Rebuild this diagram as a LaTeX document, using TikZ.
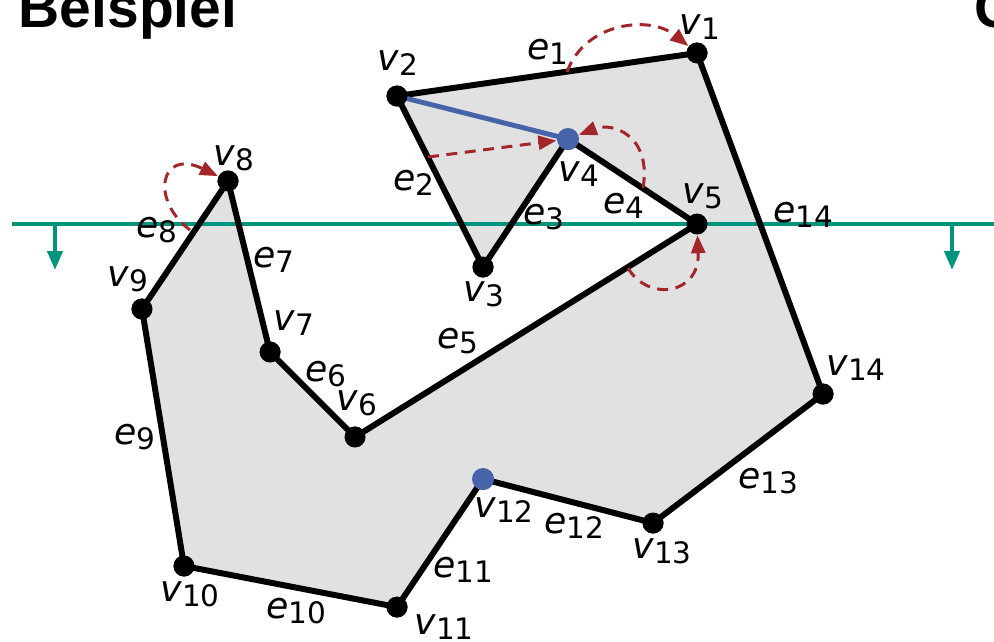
\documentclass[tikz,border=0pt]{standalone}
\usepackage{fontspec}
\setmainfont{DejaVu Sans}
\newfontfamily\headfont{Liberation Sans}
\usetikzlibrary{arrows.meta, positioning}
\definecolor{polyfill}{HTML}{E1E1E1}
\definecolor{sweepteal}{HTML}{00937E}
\definecolor{hitblue}{HTML}{4564AA}
\definecolor{ptrred}{HTML}{A3262A}
\newcommand{\idx}[2]{\textit{#1}\raisebox{-1.4pt}{\fontsize{8.4}{9}\selectfont #2}}
\tikzset{
    vtx/.style={circle, fill=black, inner sep=0pt, minimum size=0.21cm},
    hit vtx/.style={vtx, fill=hitblue, minimum size=0.22cm},
    lbl/.style={font=\fontsize{10.3}{12}\selectfont, inner sep=0pt},
    poly edge/.style={line width=1.7pt, line join=round},
    hit edge/.style={hitblue, line width=1.4pt},
    sweep line/.style={sweepteal, line width=1.4pt},
    sweep arrow/.style={sweepteal, line width=1.2pt,
        -{Triangle[length=0.19cm, width=0.15cm]}},
    ptr arrow/.style={ptrred, line width=0.85pt, dash pattern=on 0.11cm off 0.075cm,
        -{Triangle[length=0.18cm, width=0.14cm]}},
    head/.style={font=\headfont\fontsize{16.2}{18}\selectfont\bfseries, inner sep=0pt},
}
\begin{document}
\begin{tikzpicture}[x=0.01cm, y=-0.01cm]
  \useasboundingbox (0,0) rectangle (994,641);
  % title
  \node[head, anchor=base west] (title) at (18,27) {Beispiel};
  \node[head, anchor=base west] (next) at (974,27) {G};
  % vertices
  \node[vtx] (v1) at (697,53) {};
  \node[vtx] (v2) at (397,96) {};
  \node[vtx] (v3) at (483,267) {};
  \node[hit vtx] (v4) at (568,139) {};
  \node[vtx] (v5) at (697,224) {};
  \node[vtx] (v6) at (355,437) {};
  \node[vtx] (v7) at (270,352) {};
  \node[vtx] (v8) at (228,181) {};
  \node[vtx] (v9) at (142,309) {};
  \node[vtx] (v10) at (184,566) {};
  \node[vtx] (v11) at (397,607) {};
  \node[hit vtx] (v12) at (483,479) {};
  \node[vtx] (v13) at (653,523) {};
  \node[vtx] (v14) at (823,394) {};
  % polygon
  \fill[polyfill] (v1.center) -- (v2.center) -- (v3.center) -- (v4.center) -- (v5.center)
    -- (v6.center) -- (v7.center) -- (v8.center) -- (v9.center) -- (v10.center)
    -- (v11.center) -- (v12.center) -- (v13.center) -- (v14.center) -- cycle;
  % sweep line
  \coordinate (sl) at (12,224);
  \coordinate (sr) at (994,224);
  \coordinate (dl) at (55,224);
  \coordinate (dlt) at (55,270);
  \coordinate (dr) at (952,224);
  \coordinate (drt) at (952,270);
  \draw[sweep line] (sl) -- (sr);
  \draw[sweep arrow] (dl) -- (dlt);
  \draw[sweep arrow] (dr) -- (drt);
  \draw[poly edge] (v1.center) -- (v2.center) -- (v3.center) -- (v4.center) -- (v5.center)
      -- (v6.center) -- (v7.center) -- (v8.center) -- (v9.center) -- (v10.center)
      -- (v11.center) -- (v12.center) -- (v13.center) -- (v14.center) -- cycle;
  \draw[hit edge] (v2.center) -- (v4.center);
  % redraw dots on top
  \foreach \v in {v1,v2,v3,v5,v6,v7,v8,v9,v10,v11,v13,v14}
    \fill (\v) circle (0.105cm);
  \fill[hitblue] (v4) circle (0.11cm);
  \fill[hitblue] (v12) circle (0.11cm);
  % pointer arrows
  \coordinate (p1) at (567,72);
  \coordinate (p2) at (428,157);
  \coordinate (p4) at (643,188);
  \coordinate (p5) at (628,268);
  \coordinate (p8) at (190,230);
  \draw[ptr arrow] (p1) .. controls (585,22) and (650,15) .. (v1);
  \draw[ptr arrow] (p2) -- (v4);
  \draw[ptr arrow] (p4) .. controls (652,135) and (612,122) .. (v4);
  \draw[ptr arrow] (p5) .. controls (648,302) and (700,295) .. (v5);
  \draw[ptr arrow] (p8) .. controls (150,200) and (160,148) .. (v8);
  % vertex labels
  \node[lbl] (lv1) at (700,27) {\idx{v}{1}};
  \node[lbl] (lv2) at (398,63) {\idx{v}{2}};
  \node[lbl] (lv3) at (484,294) {\idx{v}{3}};
  \node[lbl] (lv4) at (579,174) {\idx{v}{4}};
  \node[lbl] (lv5) at (703,196) {\idx{v}{5}};
  \node[lbl] (lv6) at (357,403) {\idx{v}{6}};
  \node[lbl] (lv7) at (294,323) {\idx{v}{7}};
  \node[lbl] (lv8) at (234,158) {\idx{v}{8}};
  \node[lbl] (lv9) at (128,279) {\idx{v}{9}};
  \node[lbl] (lv10) at (190,594) {\idx{v}{10}};
  \node[lbl] (lv11) at (444,627) {\idx{v}{11}};
  \node[lbl] (lv12) at (504,510) {\idx{v}{12}};
  \node[lbl] (lv13) at (662,551) {\idx{v}{13}};
  \node[lbl] (lv14) at (856,368) {\idx{v}{14}};
  % edge labels
  \node[lbl] (le1) at (548,52) {\idx{e}{1}};
  \node[lbl] (le2) at (414,183) {\idx{e}{2}};
  \node[lbl] (le3) at (544,217) {\idx{e}{3}};
  \node[lbl] (le4) at (624,206) {\idx{e}{4}};
  \node[lbl] (le5) at (458,341) {\idx{e}{5}};
  \node[lbl] (le6) at (326,374) {\idx{e}{6}};
  \node[lbl] (le7) at (274,260) {\idx{e}{7}};
  \node[lbl] (le8) at (157,230) {\idx{e}{8}};
  \node[lbl] (le9) at (135,437) {\idx{e}{9}};
  \node[lbl] (le10) at (296,611) {\idx{e}{10}};
  \node[lbl] (le11) at (463,570) {\idx{e}{11}};
  \node[lbl] (le12) at (574,526) {\idx{e}{12}};
  \node[lbl] (le13) at (768,481) {\idx{e}{13}};
  \node[lbl] (le14) at (803,215) {\idx{e}{14}};
\end{tikzpicture}
\end{document}
